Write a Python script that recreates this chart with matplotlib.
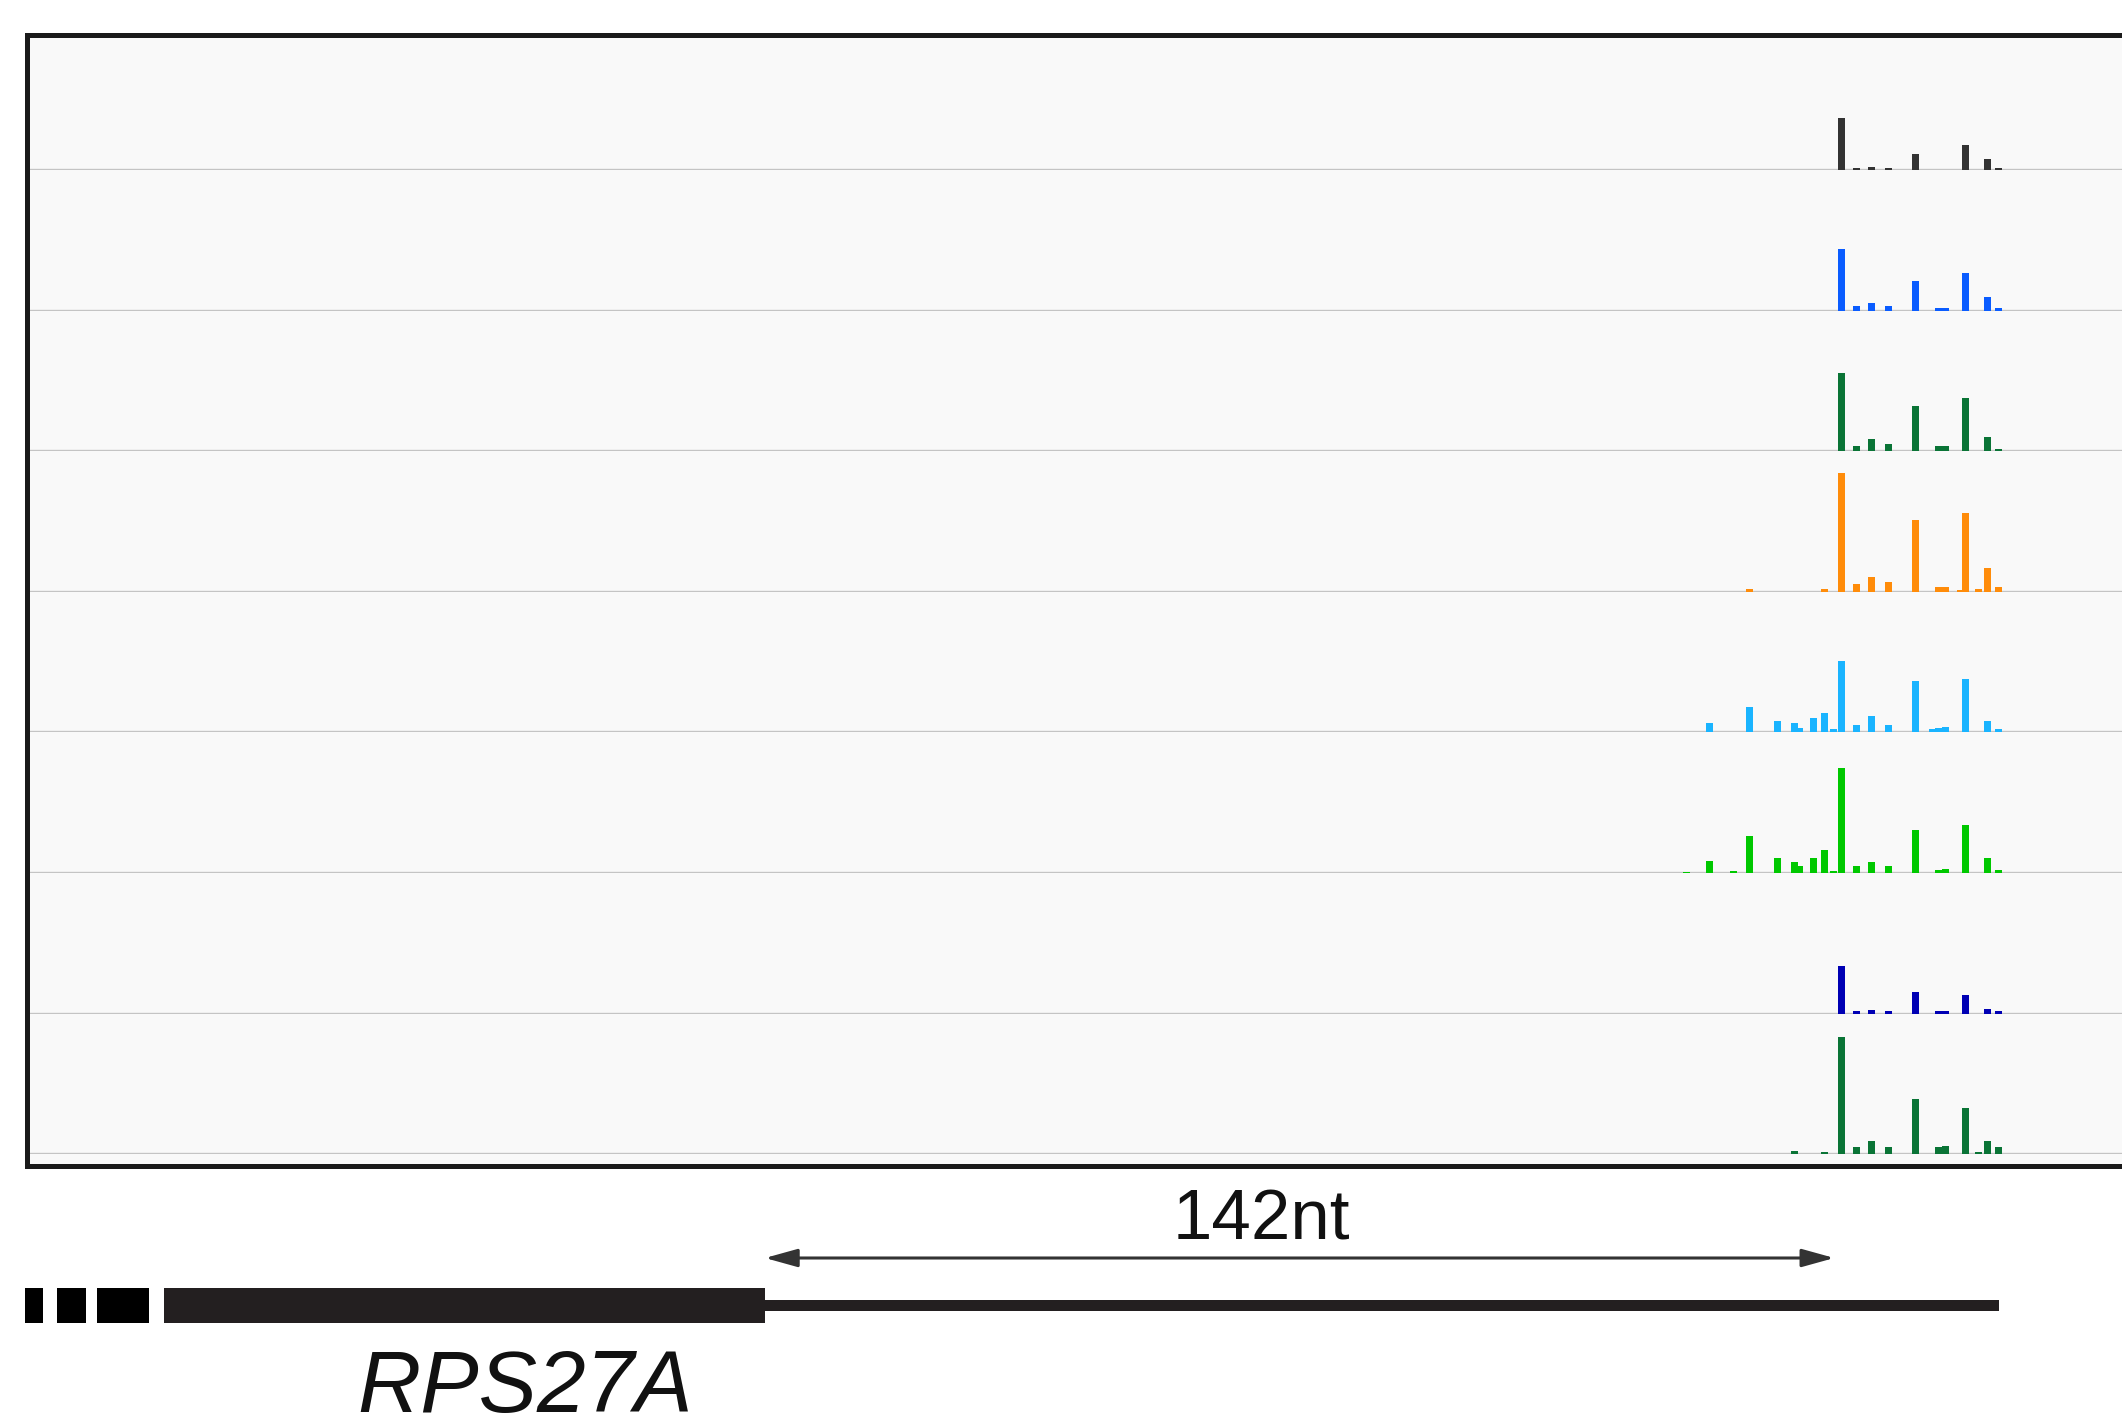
import matplotlib
matplotlib.use("Agg")
import matplotlib.pyplot as plt
from matplotlib.patches import Rectangle

# ---------------- data ----------------
# read positions (nt, relative to the end of the coding block)
positions = [122.4, 125.4, 128.6, 130.8, 134.4, 136.7, 137.4, 139.3, 140.7, 141.9,
             142.9, 145.0, 147.0, 149.2, 152.8, 155.0, 155.9, 156.8, 158.7, 159.4,
             161.2, 162.3, 163.8]

# read density for each track (same order as positions)
track_black = [0, 0, 0, 0, 0, 0, 0, 0, 0, 0,
               51.7, 2.3, 3.0, 2.0, 16.0, 0, 0, 0, 0, 25.0, 0, 11.0, 2.0]
track_blue = [0, 0, 0, 0, 0, 0, 0, 0, 0, 0,
              61.7, 5.0, 7.3, 5.0, 30.0, 0, 2.3, 2.3, 0, 37.3, 0, 14.0, 2.3]
track_green1 = [0, 0, 0, 0, 0, 0, 0, 0, 0, 0,
                78.3, 5.0, 12.3, 7.7, 45.0, 0, 5.0, 5.0, 0, 53.3, 0, 14.3, 2.3]
track_orange = [0, 0, 0, 2.7, 0, 0, 0, 0, 2.7, 0,
                118.7, 7.7, 15.3, 10.0, 72.0, 0, 5.3, 5.3, 2.0, 79.3, 2.7, 24.3, 5.3]
track_cyan = [0, 9.3, 0, 25.3, 11.0, 9.3, 4.3, 14.3, 19.3, 3.3,
              71.0, 7.7, 16.0, 7.7, 51.0, 3.3, 4.3, 5.3, 0, 53.7, 0, 11.0, 3.3]
track_lime = [1.5, 12.0, 2.0, 36.7, 15.3, 11.0, 7.0, 15.3, 23.3, 2.0,
              105.3, 6.7, 11.0, 6.7, 43.3, 0, 3.0, 4.3, 0, 47.7, 0, 15.3, 2.7]
track_navy = [0, 0, 0, 0, 0, 0, 0, 0, 0, 0,
              48.0, 2.3, 4.0, 2.3, 21.3, 0, 2.3, 2.3, 0, 19.0, 0, 4.7, 2.3]
track_green2 = [0, 0, 0, 0, 0, 3.3, 0, 0, 2.3, 0,
                117.3, 6.7, 13.3, 6.7, 54.7, 0, 7.0, 8.3, 0, 45.7, 2.3, 13.3, 6.7]

tracks = [track_black, track_blue, track_green1, track_orange,
          track_cyan, track_lime, track_navy, track_green2]
track_colors = ["#333333", "#0a5cff", "#0a7436", "#ff8c0a",
                "#1ab4ff", "#00c800", "#0000b4", "#0a7436"]

# gene model (nt)
utr_exons = [(-98.3, -95.9), (-94.0, -90.2), (-88.7, -81.8)]
cds_block = (-79.8, 0.0)
tail_end = 163.9
distance_nt = 142
distance_label = "142nt"
gene_name = "RPS27A"

# ---------------- layout ----------------
W, H = 2122, 1427
PX0 = 765.0          # pixel x of nt 0
PX_PER_NT = 7.53


def nt(px):
    return (px - PX0) / PX_PER_NT


XLIM = (nt(0), nt(W))

fig = plt.figure(figsize=(W / 100, H / 100), dpi=100)
fig.patch.set_facecolor("white")
plt.rcParams["font.family"] = ["Liberation Sans", "DejaVu Sans"]

bg = fig.add_axes([0, 0, 1, 1])
bg.set_xlim(*XLIM)
bg.set_ylim(H, 0)
bg.axis("off")

# track panel frame
box_left, box_top, box_bottom = 27, 35, 1166
bg.add_patch(Rectangle((nt(box_left), box_top), nt(W + 50) - nt(box_left),
                       box_bottom - box_top, facecolor="#f9f9f9",
                       edgecolor="#1a1a1a", lw=3.6, zorder=0))

# tracks
first_base = 170.0
track_h = 140.6
bar_w = 7.0 / PX_PER_NT
for i, (vals, col) in enumerate(zip(tracks, track_colors)):
    base = first_base + i * track_h
    ax = fig.add_axes([0, 1 - base / H, 1, track_h / H])
    ax.set_xlim(*XLIM)
    ax.set_ylim(0, track_h)
    ax.axis("off")
    ax.patch.set_alpha(0)
    ax.hlines(0, nt(box_left + 3), XLIM[1], color="#c4c4c4", lw=1.7, zorder=1)
    xs = [p for p, v in zip(positions, vals) if v > 0]
    hs = [v for v in vals if v > 0]
    ax.bar(xs, hs, width=bar_w, bottom=0, color=col, edgecolor="none",
           align="center", zorder=2)

# gene model
y_top, y_h = 1288, 35
bg.broken_barh([(a, b - a) for a, b in utr_exons], (y_top, y_h),
               facecolors="#000000", zorder=3)
bg.broken_barh([(cds_block[0], cds_block[1] - cds_block[0])], (y_top, y_h),
               facecolors="#231f20", zorder=3)
bg.broken_barh([(cds_block[1], tail_end - cds_block[1])], (1300, 10.7),
               facecolors="#231f20", zorder=3)

# distance arrow
bg.annotate("", xy=(distance_nt, 1258), xytext=(0, 1258),
            arrowprops=dict(arrowstyle="<|-|>,head_length=0.9,head_width=0.25",
                            color="#333333", lw=2.2, shrinkA=0, shrinkB=0,
                            mutation_scale=22))
bg.text(nt(1261), 1240, distance_label, ha="center", va="baseline",
        fontsize=51, color="#111111")
bg.text(nt(525), 1412, gene_name, ha="center", va="baseline",
        fontsize=63, style="italic", color="#111111")

fig.savefig("out.png", dpi=100, facecolor="white")
